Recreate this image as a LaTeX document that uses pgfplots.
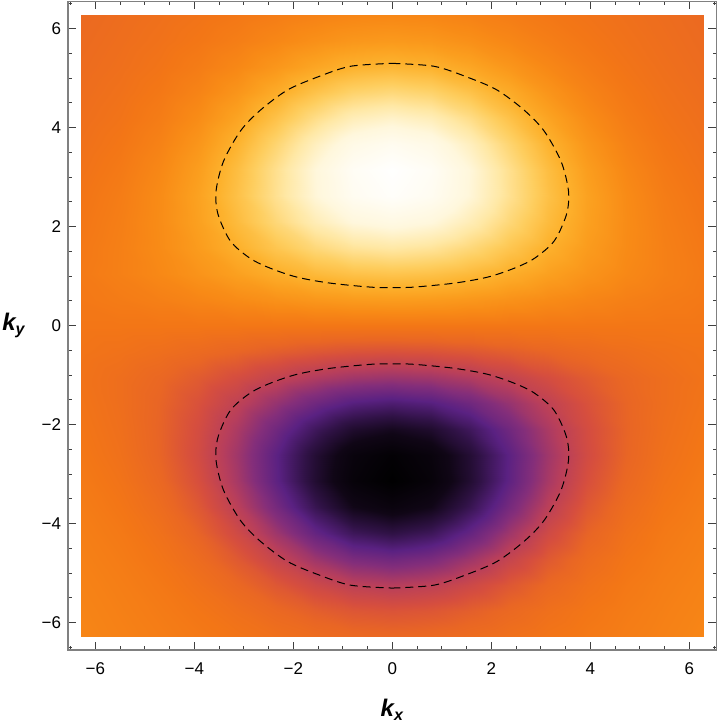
\documentclass[border=0pt]{standalone}
\usepackage{fontspec}
\setmainfont{Liberation Sans}
\usepackage{pgfplots}
\pgfplotsset{compat=1.18}
\pgfplotsset{
  colormap={sunset}{
    rgb255(0cm)=(0,0,0); rgb255(1.5cm)=(16,6,22); rgb255(2.8cm)=(48,18,70);
    rgb255(4.2cm)=(90,33,130); rgb255(5.5cm)=(132,46,122); rgb255(6.8cm)=(183,62,92);
    rgb255(8cm)=(214,78,62); rgb255(9cm)=(233,102,36); rgb255(10cm)=(243,118,22);
    rgb255(11cm)=(248,138,22); rgb255(12cm)=(251,158,30); rgb255(13cm)=(253,178,45);
    rgb255(14.5cm)=(254,206,95); rgb255(16.2cm)=(255,232,165); rgb255(17.8cm)=(255,247,220);
    rgb255(20cm)=(255,255,255)
  }
}

\begin{document}
\begin{tikzpicture}
\begin{axis}[
  scale only axis, width=324pt, height=324pt,
  xmin=-6.55, xmax=6.55, ymin=-6.55, ymax=6.55,
  axis line style={black!50, line width=0.6pt},
  tick style={black!75, line width=0.5pt},
  major tick length=4pt, minor tick length=2pt,
  tick align=inside,
  xtick={-6,-4,-2,0,2,4,6}, ytick={-6,-4,-2,0,2,4,6},
  xticklabels={−6,−4,−2,0,2,4,6}, yticklabels={−6,−4,−2,0,2,4,6},
  minor xtick={-6.5,-5.5,-5,-4.5,-3.5,-3,-2.5,-1.5,-1,-0.5,0.5,1,1.5,2.5,3,3.5,4.5,5,5.5,6.5},
  minor ytick={-6.5,-5.5,-5,-4.5,-3.5,-3,-2.5,-1.5,-1,-0.5,0.5,1,1.5,2.5,3,3.5,4.5,5,5.5,6.5},
  ticklabel style={font=\fontsize{8.5}{10}\selectfont},
  xticklabel style={yshift=-3pt},
  colormap name=sunset,
  point meta min=-1, point meta max=1,
  xlabel={\fontsize{12}{14}\selectfont\bfseries\itshape k\textsubscript{x}},
  ylabel={\fontsize{12}{14}\selectfont\bfseries\itshape k\textsubscript{y}},
  every axis x label/.style={at={(rel axis cs:0.5,0)}, anchor=center, yshift=-30pt},
  every axis y label/.style={at={(rel axis cs:0,0.5)}, anchor=center, xshift=-27pt},
  axis on top,
]

% density values, kx step pi/4, ky step pi/6
\addplot[surf, shader=interp, mesh/cols=17, point meta=explicit]
table[x=x, y=y, meta=f] {
x y f
-6.283 -6.283 0.079
-5.498 -6.283 0.058
-4.712 -6.283 0.038
-3.927 -6.283 0.016
-3.142 -6.283 -0.008
-2.356 -6.283 -0.035
-1.571 -6.283 -0.060
-0.785 -6.283 -0.079
0 -6.283 -0.086
0.785 -6.283 -0.079
1.571 -6.283 -0.060
2.356 -6.283 -0.035
3.142 -6.283 -0.008
3.927 -6.283 0.016
4.712 -6.283 0.038
5.498 -6.283 0.058
6.283 -6.283 0.079

-6.283 -5.760 0.071
-5.498 -5.760 0.050
-4.712 -5.760 0.027
-3.927 -5.760 -0.002
-3.142 -5.760 -0.039
-2.356 -5.760 -0.084
-1.571 -5.760 -0.129
-0.785 -5.760 -0.164
0 -5.760 -0.177
0.785 -5.760 -0.164
1.571 -5.760 -0.129
2.356 -5.760 -0.084
3.142 -5.760 -0.039
3.927 -5.760 -0.002
4.712 -5.760 0.027
5.498 -5.760 0.050
6.283 -5.760 0.071

-6.283 -5.236 0.063
-5.498 -5.236 0.041
-4.712 -5.236 0.012
-3.927 -5.236 -0.030
-3.142 -5.236 -0.088
-2.356 -5.236 -0.161
-1.571 -5.236 -0.238
-0.785 -5.236 -0.298
0 -5.236 -0.321
0.785 -5.236 -0.298
1.571 -5.236 -0.238
2.356 -5.236 -0.161
3.142 -5.236 -0.088
3.927 -5.236 -0.030
4.712 -5.236 0.012
5.498 -5.236 0.041
6.283 -5.236 0.063

-6.283 -4.712 0.054
-5.498 -4.712 0.029
-4.712 -4.712 -0.008
-3.927 -4.712 -0.066
-3.142 -4.712 -0.153
-2.356 -4.712 -0.266
-1.571 -4.712 -0.385
-0.785 -4.712 -0.478
0 -4.712 -0.513
0.785 -4.712 -0.478
1.571 -4.712 -0.385
2.356 -4.712 -0.266
3.142 -4.712 -0.153
3.927 -4.712 -0.066
4.712 -4.712 -0.008
5.498 -4.712 0.029
6.283 -4.712 0.054

-6.283 -4.189 0.044
-5.498 -4.189 0.016
-4.712 -4.189 -0.031
-3.927 -4.189 -0.110
-3.142 -4.189 -0.229
-2.356 -4.189 -0.384
-1.571 -4.189 -0.548
-0.785 -4.189 -0.676
0 -4.189 -0.725
0.785 -4.189 -0.676
1.571 -4.189 -0.548
2.356 -4.189 -0.384
3.142 -4.189 -0.229
3.927 -4.189 -0.110
4.712 -4.189 -0.031
5.498 -4.189 0.016
6.283 -4.189 0.044

-6.283 -3.665 0.033
-5.498 -3.665 -0.001
-4.712 -3.665 -0.059
-3.927 -3.665 -0.157
-3.142 -3.665 -0.305
-2.356 -3.665 -0.494
-1.571 -3.665 -0.693
-0.785 -3.665 -0.846
0 -3.665 -0.904
0.785 -3.665 -0.846
1.571 -3.665 -0.693
2.356 -3.665 -0.494
3.142 -3.665 -0.305
3.927 -3.665 -0.157
4.712 -3.665 -0.059
5.498 -3.665 -0.001
6.283 -3.665 0.033

-6.283 -3.142 0.021
-5.498 -3.142 -0.018
-4.712 -3.142 -0.086
-3.927 -3.142 -0.197
-3.142 -3.142 -0.361
-2.356 -3.142 -0.566
-1.571 -3.142 -0.775
-0.785 -3.142 -0.935
0 -3.142 -0.995
0.785 -3.142 -0.935
1.571 -3.142 -0.775
2.356 -3.142 -0.566
3.142 -3.142 -0.361
3.927 -3.142 -0.197
4.712 -3.142 -0.086
5.498 -3.142 -0.018
6.283 -3.142 0.021

-6.283 -2.618 0.008
-5.498 -2.618 -0.033
-4.712 -2.618 -0.105
-3.927 -2.618 -0.219
-3.142 -2.618 -0.379
-2.356 -2.618 -0.573
-1.571 -2.618 -0.767
-0.785 -2.618 -0.912
0 -2.618 -0.967
0.785 -2.618 -0.912
1.571 -2.618 -0.767
2.356 -2.618 -0.573
3.142 -2.618 -0.379
3.927 -2.618 -0.219
4.712 -2.618 -0.105
5.498 -2.618 -0.033
6.283 -2.618 0.008

-6.283 -2.094 -0.002
-5.498 -2.094 -0.042
-4.712 -2.094 -0.109
-3.927 -2.094 -0.211
-3.142 -2.094 -0.349
-2.356 -2.094 -0.511
-1.571 -2.094 -0.668
-0.785 -2.094 -0.784
0 -2.094 -0.827
0.785 -2.094 -0.784
1.571 -2.094 -0.668
2.356 -2.094 -0.511
3.142 -2.094 -0.349
3.927 -2.094 -0.211
4.712 -2.094 -0.109
5.498 -2.094 -0.042
6.283 -2.094 -0.002

-6.283 -1.571 -0.012
-5.498 -1.571 -0.049
-4.712 -1.571 -0.105
-3.927 -1.571 -0.187
-3.142 -1.571 -0.290
-2.356 -1.571 -0.405
-1.571 -1.571 -0.513
-0.785 -1.571 -0.591
0 -1.571 -0.620
0.785 -1.571 -0.591
1.571 -1.571 -0.513
2.356 -1.571 -0.405
3.142 -1.571 -0.290
3.927 -1.571 -0.187
4.712 -1.571 -0.105
5.498 -1.571 -0.049
6.283 -1.571 -0.012

-6.283 -1.047 -0.020
-5.498 -1.047 -0.050
-4.712 -1.047 -0.091
-3.927 -1.047 -0.146
-3.142 -1.047 -0.210
-2.356 -1.047 -0.278
-1.571 -1.047 -0.338
-0.785 -1.047 -0.380
0 -1.047 -0.396
0.785 -1.047 -0.380
1.571 -1.047 -0.338
2.356 -1.047 -0.278
3.142 -1.047 -0.210
3.927 -1.047 -0.146
4.712 -1.047 -0.091
5.498 -1.047 -0.050
6.283 -1.047 -0.020

-6.283 -0.524 -0.012
-5.498 -0.524 -0.027
-4.712 -0.524 -0.047
-3.927 -0.524 -0.074
-3.142 -0.524 -0.104
-2.356 -0.524 -0.135
-1.571 -0.524 -0.163
-0.785 -0.524 -0.182
0 -0.524 -0.189
0.785 -0.524 -0.182
1.571 -0.524 -0.163
2.356 -0.524 -0.135
3.142 -0.524 -0.104
3.927 -0.524 -0.074
4.712 -0.524 -0.047
5.498 -0.524 -0.027
6.283 -0.524 -0.012

-6.283 0 0
-5.498 0 0
-4.712 0 0
-3.927 0 0
-3.142 0 0
-2.356 0 0
-1.571 0 0
-0.785 0 0
0 0 0
0.785 0 0
1.571 0 0
2.356 0 0
3.142 0 0
3.927 0 0
4.712 0 0
5.498 0 0
6.283 0 0

-6.283 0.524 0.012
-5.498 0.524 0.027
-4.712 0.524 0.047
-3.927 0.524 0.074
-3.142 0.524 0.104
-2.356 0.524 0.135
-1.571 0.524 0.163
-0.785 0.524 0.182
0 0.524 0.189
0.785 0.524 0.182
1.571 0.524 0.163
2.356 0.524 0.135
3.142 0.524 0.104
3.927 0.524 0.074
4.712 0.524 0.047
5.498 0.524 0.027
6.283 0.524 0.012

-6.283 1.047 0.020
-5.498 1.047 0.050
-4.712 1.047 0.091
-3.927 1.047 0.146
-3.142 1.047 0.210
-2.356 1.047 0.278
-1.571 1.047 0.338
-0.785 1.047 0.380
0 1.047 0.396
0.785 1.047 0.380
1.571 1.047 0.338
2.356 1.047 0.278
3.142 1.047 0.210
3.927 1.047 0.146
4.712 1.047 0.091
5.498 1.047 0.050
6.283 1.047 0.020

-6.283 1.571 0.012
-5.498 1.571 0.049
-4.712 1.571 0.105
-3.927 1.571 0.187
-3.142 1.571 0.290
-2.356 1.571 0.405
-1.571 1.571 0.513
-0.785 1.571 0.591
0 1.571 0.620
0.785 1.571 0.591
1.571 1.571 0.513
2.356 1.571 0.405
3.142 1.571 0.290
3.927 1.571 0.187
4.712 1.571 0.105
5.498 1.571 0.049
6.283 1.571 0.012

-6.283 2.094 0.002
-5.498 2.094 0.042
-4.712 2.094 0.109
-3.927 2.094 0.211
-3.142 2.094 0.349
-2.356 2.094 0.511
-1.571 2.094 0.668
-0.785 2.094 0.784
0 2.094 0.827
0.785 2.094 0.784
1.571 2.094 0.668
2.356 2.094 0.511
3.142 2.094 0.349
3.927 2.094 0.211
4.712 2.094 0.109
5.498 2.094 0.042
6.283 2.094 0.002

-6.283 2.618 -0.008
-5.498 2.618 0.033
-4.712 2.618 0.105
-3.927 2.618 0.219
-3.142 2.618 0.379
-2.356 2.618 0.573
-1.571 2.618 0.767
-0.785 2.618 0.912
0 2.618 0.967
0.785 2.618 0.912
1.571 2.618 0.767
2.356 2.618 0.573
3.142 2.618 0.379
3.927 2.618 0.219
4.712 2.618 0.105
5.498 2.618 0.033
6.283 2.618 -0.008

-6.283 3.142 -0.021
-5.498 3.142 0.018
-4.712 3.142 0.086
-3.927 3.142 0.197
-3.142 3.142 0.361
-2.356 3.142 0.566
-1.571 3.142 0.775
-0.785 3.142 0.935
0 3.142 0.995
0.785 3.142 0.935
1.571 3.142 0.775
2.356 3.142 0.566
3.142 3.142 0.361
3.927 3.142 0.197
4.712 3.142 0.086
5.498 3.142 0.018
6.283 3.142 -0.021

-6.283 3.665 -0.033
-5.498 3.665 0.001
-4.712 3.665 0.059
-3.927 3.665 0.157
-3.142 3.665 0.305
-2.356 3.665 0.494
-1.571 3.665 0.693
-0.785 3.665 0.846
0 3.665 0.904
0.785 3.665 0.846
1.571 3.665 0.693
2.356 3.665 0.494
3.142 3.665 0.305
3.927 3.665 0.157
4.712 3.665 0.059
5.498 3.665 0.001
6.283 3.665 -0.033

-6.283 4.189 -0.044
-5.498 4.189 -0.016
-4.712 4.189 0.031
-3.927 4.189 0.110
-3.142 4.189 0.229
-2.356 4.189 0.384
-1.571 4.189 0.548
-0.785 4.189 0.676
0 4.189 0.725
0.785 4.189 0.676
1.571 4.189 0.548
2.356 4.189 0.384
3.142 4.189 0.229
3.927 4.189 0.110
4.712 4.189 0.031
5.498 4.189 -0.016
6.283 4.189 -0.044

-6.283 4.712 -0.054
-5.498 4.712 -0.029
-4.712 4.712 0.008
-3.927 4.712 0.066
-3.142 4.712 0.153
-2.356 4.712 0.266
-1.571 4.712 0.385
-0.785 4.712 0.478
0 4.712 0.513
0.785 4.712 0.478
1.571 4.712 0.385
2.356 4.712 0.266
3.142 4.712 0.153
3.927 4.712 0.066
4.712 4.712 0.008
5.498 4.712 -0.029
6.283 4.712 -0.054

-6.283 5.236 -0.063
-5.498 5.236 -0.041
-4.712 5.236 -0.012
-3.927 5.236 0.030
-3.142 5.236 0.088
-2.356 5.236 0.161
-1.571 5.236 0.238
-0.785 5.236 0.298
0 5.236 0.321
0.785 5.236 0.298
1.571 5.236 0.238
2.356 5.236 0.161
3.142 5.236 0.088
3.927 5.236 0.030
4.712 5.236 -0.012
5.498 5.236 -0.041
6.283 5.236 -0.063

-6.283 5.760 -0.071
-5.498 5.760 -0.050
-4.712 5.760 -0.027
-3.927 5.760 0.002
-3.142 5.760 0.039
-2.356 5.760 0.084
-1.571 5.760 0.129
-0.785 5.760 0.164
0 5.760 0.177
0.785 5.760 0.164
1.571 5.760 0.129
2.356 5.760 0.084
3.142 5.760 0.039
3.927 5.760 0.002
4.712 5.760 -0.027
5.498 5.760 -0.050
6.283 5.760 -0.071

-6.283 6.283 -0.079
-5.498 6.283 -0.058
-4.712 6.283 -0.038
-3.927 6.283 -0.016
-3.142 6.283 0.008
-2.356 6.283 0.035
-1.571 6.283 0.060
-0.785 6.283 0.079
0 6.283 0.086
0.785 6.283 0.079
1.571 6.283 0.060
2.356 6.283 0.035
3.142 6.283 0.008
3.927 6.283 -0.016
4.712 6.283 -0.038
5.498 6.283 -0.058
6.283 6.283 -0.079
};

% dashed level curves
\addplot[black, line width=0.5pt, dash pattern=on 4pt off 2.5pt, smooth, tension=0.5]
coordinates {(0,5.30) (0.85,5.24) (1.52,5.02) (2.12,4.76) (2.67,4.35) (3.07,3.93) (3.41,3.32) (3.56,2.72) (3.52,2.25) (3.27,1.71) (2.87,1.36) (2.46,1.16) (1.92,0.98) (1.25,0.86) (0.44,0.78) (0,0.77) (-0.44,0.78) (-1.25,0.86) (-1.92,0.98) (-2.46,1.16) (-2.87,1.36) (-3.27,1.71) (-3.52,2.25) (-3.56,2.72) (-3.41,3.32) (-3.07,3.93) (-2.67,4.35) (-2.12,4.76) (-1.52,5.02) (-0.85,5.24) (0,5.30)};
\addplot[black, line width=0.5pt, dash pattern=on 4pt off 2.5pt, smooth, tension=0.5]
coordinates {(0,-5.30) (0.85,-5.24) (1.52,-5.02) (2.12,-4.76) (2.67,-4.35) (3.07,-3.93) (3.41,-3.32) (3.56,-2.72) (3.52,-2.25) (3.27,-1.71) (2.87,-1.36) (2.46,-1.16) (1.92,-0.98) (1.25,-0.86) (0.44,-0.78) (0,-0.77) (-0.44,-0.78) (-1.25,-0.86) (-1.92,-0.98) (-2.46,-1.16) (-2.87,-1.36) (-3.27,-1.71) (-3.52,-2.25) (-3.56,-2.72) (-3.41,-3.32) (-3.07,-3.93) (-2.67,-4.35) (-2.12,-4.76) (-1.52,-5.02) (-0.85,-5.24) (0,-5.30)};

\coordinate (bl) at (rel axis cs:0,0);
\coordinate (tr) at (rel axis cs:1,1);
\end{axis}
\pgfresetboundingbox
\path[use as bounding box] ([xshift=-34pt,yshift=-39pt]bl) rectangle ([xshift=2pt,yshift=0.75pt]tr);
\end{tikzpicture}
\end{document}
